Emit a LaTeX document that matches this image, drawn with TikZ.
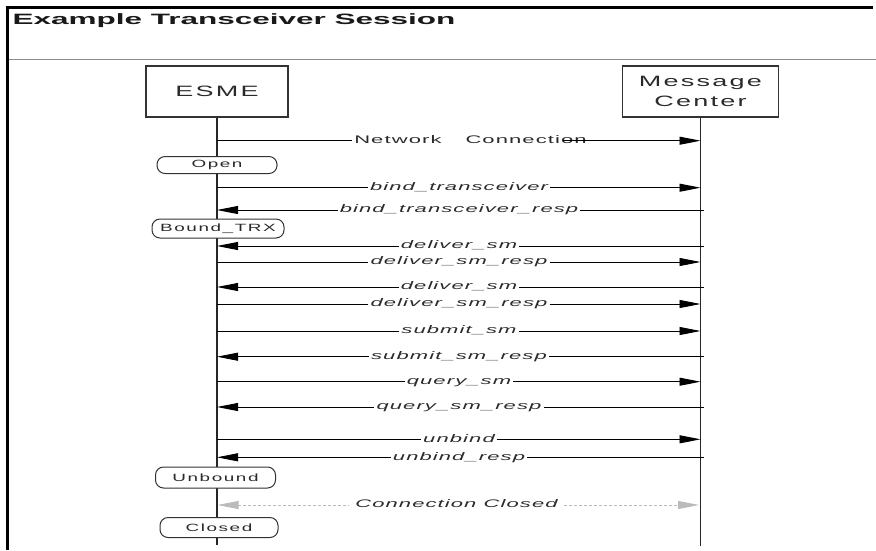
\documentclass[tikz,border=0pt]{standalone}
\usepackage{fontspec}
\setmainfont{Liberation Sans}
\newfontfamily\wfont[FakeStretch=2.0,LetterSpace=10]{Liberation Sans}
\newfontfamily\afont[FakeStretch=1.8,LetterSpace=15]{Liberation Sans}
\newfontfamily\tfont[FakeStretch=2.1]{Liberation Sans}
\usetikzlibrary{arrows.meta}
\definecolor{ink}{HTML}{2A2A2A}
\definecolor{boxline}{HTML}{333333}
\definecolor{ccgray}{HTML}{BBBBBB}
\tikzset{
  actor/.style={draw=boxline, line width=1.4pt, fill=white, inner sep=0pt, align=center,
    text=ink, font=\afont\fontsize{15}{20}\selectfont},
  life/.style={draw=black!85, line width=1.3pt},
  msg/.style={inner xsep=2pt, inner ysep=0pt, text height=8pt, text depth=2.5pt,
    text=ink, font=\wfont\itshape\fontsize{11}{13}\selectfont},
  plainmsg/.style={msg, font=\wfont\fontsize{11}{13}\selectfont},
  msgline/.style={draw=black, line width=0.9pt},
  tip/.style={-{Triangle[length=21pt,width=8pt]}},
  rtip/.style={{Triangle[length=21pt,width=8pt]}-},
  state/.style={draw=boxline, line width=1pt, fill=white, rounded corners=8pt,
    inner sep=0pt, text=ink, font=\afont\fontsize{10.5}{12}\selectfont},
  ccline/.style={draw=ccgray, line width=0.9pt, dash pattern=on 3pt off 2pt},
  cctip/.style={-{Triangle[length=21pt,width=8pt,fill=ccgray,color=ccgray]}},
  ccrtip/.style={{Triangle[length=21pt,width=8pt,fill=ccgray,color=ccgray]}-},
}
\begin{document}
\begin{tikzpicture}[x=1pt,y=-1pt]
\useasboundingbox (0,0) rectangle (876,550);
% frame
\draw[line width=3pt] (5.5,7) -- (873,7);
\draw[line width=3pt] (7,5.5) -- (7,550);
\draw[black!45, line width=1.5pt] (8.5,59.5) -- (876,59.5);
\node[anchor=base west, text=black!90, font=\tfont\bfseries\fontsize{15}{18}\selectfont] (title) at (9,24) {Example Transceiver Session};
% actors
\node[actor, minimum width=142pt, minimum height=51pt] (esme) at (217,91.5) {ESME};
\node[actor, minimum width=156pt, minimum height=51pt] (mc) at (700.5,91.5) {Message\\Center};
\coordinate (eEnd) at (217,545);
\coordinate (mEnd) at (700.5,546);
\draw[life] (esme.south) -- (eEnd);
\draw[life] (mc.south) -- (mEnd);
% network connection
\coordinate (L0) at (217,140.7);
\coordinate (R0) at (700.5,140.7);
\node[plainmsg] (m0) at (470.5,140.7) {Network\hspace{24pt}Connection};
\draw[msgline] (L0) -- (m0.west);
\draw[msgline, tip] ([xshift=-26pt]m0.east) -- (R0);
% states
\node[state, minimum width=120pt, minimum height=17pt] (open) at (217,165) {Open};
\node[state, minimum width=132pt, minimum height=19pt] (bound) at (218,228.5) {Bound\_TRX};
% messages: y / text / direction (r = to MC, l = to ESME)
\foreach \i/\yy/\txt/\dir in {
  1/187.7/bind\_transceiver/r,
  2/210/bind\_transceiver\_resp/l,
  3/246/deliver\_sm/l,
  4/262/deliver\_sm\_resp/r,
  5/287/deliver\_sm/l,
  6/304/deliver\_sm\_resp/r,
  7/331/submit\_sm/r,
  8/356.7/submit\_sm\_resp/l,
  9/381.7/query\_sm/r,
  10/407/query\_sm\_resp/l,
  11/439.3/unbind/r,
  12/457.3/unbind\_resp/l}{
  \coordinate (L\i) at (217,\yy);
  \coordinate (R\i) at (700.5,\yy);
  \coordinate (RR\i) at (704,\yy);
  \node[msg] (m\i) at (459,\yy) {\txt};
  \if r\dir
    \draw[msgline] (L\i) -- (m\i.west);
    \draw[msgline, tip] (m\i.east) -- (R\i);
  \else
    \draw[msgline, rtip] (L\i) -- (m\i.west);
    \draw[msgline] (m\i.east) -- (RR\i);
  \fi
}
\node[state, minimum width=120pt, minimum height=21pt] (unbound) at (215.5,477.5) {Unbound};
% connection closed
\coordinate (L13) at (217.5,505);
\coordinate (R13) at (699,505);
\node[msg, inner xsep=6pt] (m13) at (456.5,505) {Connection Closed};
\draw[ccline, ccrtip] (L13) -- (m13.west);
\draw[ccline, cctip] (m13.east) -- (R13);
\node[state, minimum width=118pt, minimum height=20pt] (closed) at (219,527.5) {Closed};
\end{tikzpicture}
\end{document}
